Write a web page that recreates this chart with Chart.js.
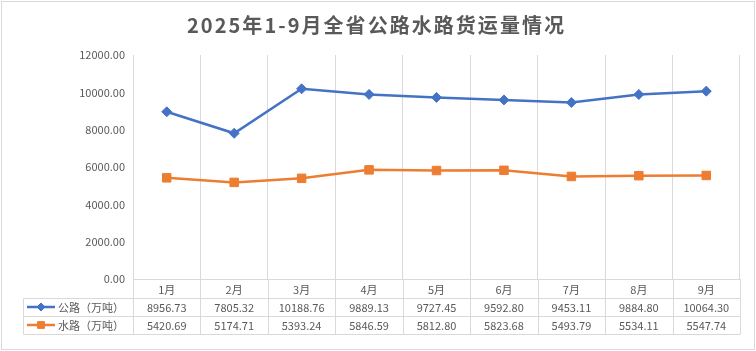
<!DOCTYPE html>
<html>
<head>
<meta charset="utf-8">
<script src="https://cdn.jsdelivr.net/npm/chart.js@4.4.1/dist/chart.umd.min.js"></script>
<style>
    body { margin: 0; background: #fff; }
    #wrap { width: 756px; height: 351px; }
</style>
</head>
<body>
<div id="wrap"><canvas id="chart-area" width="756" height="351"></canvas></div>
<script>
//data
var months = ["1月", "2月", "3月", "4月", "5月", "6月", "7月", "8月", "9月"];
var roadLabel = "公路（万吨）";
var waterLabel = "水路（万吨）";
var roadValues = [8956.73, 7805.32, 10188.76, 9889.13, 9727.45, 9592.80, 9453.11, 9884.80, 10064.30];
var waterValues = [5420.69, 5174.71, 5393.24, 5846.59, 5812.80, 5823.68, 5493.79, 5534.11, 5547.74];
var yTicks = [0, 2000, 4000, 6000, 8000, 10000, 12000];
var chartTitle = "2025年1-9月全省公路水路货运量情况";

var textColor = '#595959';
var gridColor = '#D9D9D9';
var cjkFont = '"Noto Sans CJK SC", "Noto Sans", sans-serif';

var chart;

//table under the plot, excel style, drawn from the x scale so columns follow the categories
var dataTablePlugin = {
    id: 'dataTable',
    afterDraw: function (c) {
        var ctx = c.ctx;
        var area = c.chartArea;
        var xs = c.scales.x;
        var rowH = 18;
        var top = area.bottom;
        var r1 = top + 19, r2 = r1 + rowH, bottom = r2 + rowH;
        var legendLeft = 23.5;
        var half = (xs.getPixelForValue(1) - xs.getPixelForValue(0)) / 2;

        ctx.save();
        ctx.strokeStyle = gridColor;
        ctx.lineWidth = 1;
        ctx.beginPath();
        //horizontal lines
        ctx.moveTo(area.left, Math.round(top) + 0.5); ctx.lineTo(area.right, Math.round(top) + 0.5);
        [r1, r2, bottom].forEach(function (y) {
            ctx.moveTo(legendLeft, Math.round(y) + 0.5); ctx.lineTo(area.right, Math.round(y) + 0.5);
        });
        //vertical lines through the table
        ctx.moveTo(legendLeft, Math.round(r1) + 0.5); ctx.lineTo(legendLeft, Math.round(bottom) + 0.5);
        for (var i = 0; i <= months.length; i++) {
            var gx = Math.round(xs.getPixelForValue(i) - half) + 0.5;
            ctx.moveTo(gx, Math.round(top)); ctx.lineTo(gx, Math.round(bottom) + 0.5);
        }
        ctx.stroke();

        //texts
        ctx.fillStyle = textColor;
        ctx.font = '11px ' + cjkFont;
        ctx.textAlign = 'center';
        ctx.textBaseline = 'middle';
        for (var j = 0; j < months.length; j++) {
            var cx = xs.getPixelForValue(j);
            ctx.fillText(months[j], cx, (top + r1) / 2 + 1);
            ctx.fillText(roadValues[j].toFixed(2), cx, (r1 + r2) / 2 + 1);
            ctx.fillText(waterValues[j].toFixed(2), cx, (r2 + bottom) / 2 + 1);
        }

        //legend keys
        var rows = [
            { y: (r1 + r2) / 2, ds: c.data.datasets[0], label: roadLabel },
            { y: (r2 + bottom) / 2, ds: c.data.datasets[1], label: waterLabel }
        ];
        rows.forEach(function (r) {
            ctx.strokeStyle = r.ds.borderColor;
            ctx.lineWidth = 2.5;
            ctx.beginPath();
            ctx.moveTo(27, r.y); ctx.lineTo(55, r.y);
            ctx.stroke();
            ctx.fillStyle = r.ds.backgroundColor;
            ctx.strokeStyle = r.ds.borderColor;
            ctx.lineWidth = 1;
            Chart.helpers.drawPoint(ctx, { pointStyle: r.ds.pointStyle, radius: r.ds.pointRadius * 0.8, borderWidth: 1 }, 41, r.y);
            ctx.fillStyle = textColor;
            ctx.textAlign = 'left';
            ctx.fillText(r.label, 58, r.y + 1);
        });

        //outer frame
        ctx.strokeStyle = gridColor;
        ctx.lineWidth = 1;
        ctx.strokeRect(1.5, 1.5, 753, 348);

        //title with the spacing excel gives it
        ctx.fillStyle = textColor;
        ctx.font = 'bold 20px ' + cjkFont;
        ctx.textAlign = 'left';
        var w0 = ctx.measureText(chartTitle).width;
        var spacing = Math.max(0, (377 - w0) / (chartTitle.length - 1));
        ctx.letterSpacing = spacing + 'px';
        var w1 = ctx.measureText(chartTitle).width - spacing;
        ctx.fillText(chartTitle, 375.5 - w1 / 2, 25);
        ctx.restore();
    }
};

function buildChart(chartArea) {
    if (chart) {
        chart.destroy();
    }

    Chart.defaults.font.family = cjkFont;
    Chart.defaults.color = textColor;

    chart = new Chart(chartArea.getContext('2d'), {
        type: 'line',
        plugins: [dataTablePlugin],
        data: {
            labels: months,
            datasets: [
                {
                    label: roadLabel,
                    data: roadValues,
                    borderColor: '#4472C4',
                    backgroundColor: '#4472C4',
                    borderWidth: 2.5,
                    pointStyle: 'rectRot',
                    pointRadius: 5,
                    pointBorderWidth: 1,
                    tension: 0
                },
                {
                    label: waterLabel,
                    data: waterValues,
                    borderColor: '#ED7D31',
                    backgroundColor: '#ED7D31',
                    borderWidth: 2.5,
                    pointStyle: 'rect',
                    pointRadius: 6,
                    pointBorderWidth: 1,
                    tension: 0
                }
            ]
        },
        options: {
            responsive: false,
            animation: false,
            layout: {
                padding: { top: 55, right: 16, bottom: 72, left: 0 }
            },
            plugins: {
                legend: { display: false }, //legend lives in the table
                title: { display: false },
                tooltip: { enabled: false }
            },
            scales: {
                x: {
                    offset: true,
                    grid: { offset: true, color: gridColor, lineWidth: 1, drawTicks: false },
                    border: { display: false },
                    ticks: { display: false },
                    afterFit: function (s) { s.height = 0; }
                },
                y: {
                    min: 0,
                    max: 12000,
                    afterBuildTicks: function (s) {
                        s.ticks = yTicks.map(function (v) { return { value: v }; });
                    },
                    grid: { display: false, drawTicks: false },
                    border: { display: false },
                    ticks: {
                        padding: 8,
                        font: { size: 11 },
                        color: textColor,
                        callback: function (v) { return Number(v).toFixed(2); }
                    },
                    afterFit: function (s) { s.width = 133; }
                }
            }
        }
    });
}

buildChart(document.getElementById('chart-area'));
</script>
</body>
</html>
